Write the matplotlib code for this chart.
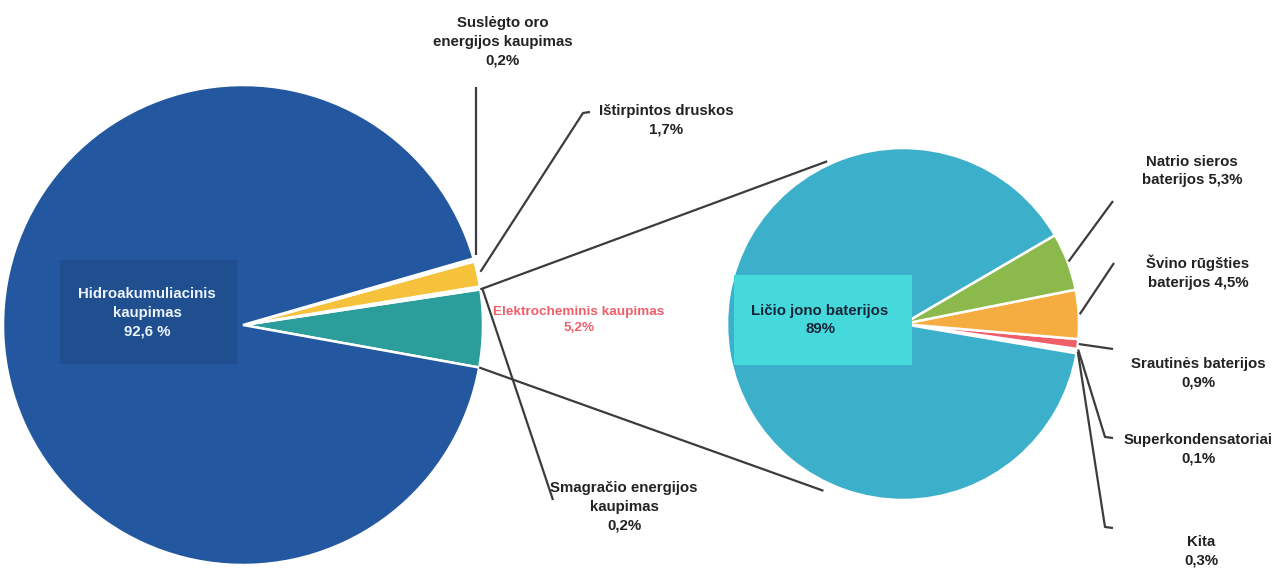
import numpy as np
import matplotlib
matplotlib.use("Agg")
import matplotlib.pyplot as plt
from matplotlib.patches import Rectangle

plt.rcParams['font.family'] = ['Liberation Sans', 'DejaVu Sans']

# ---- data ----
left_labels = ["Elektrocheminis kaupimas", "Smagračio energijos kaupimas",
               "Ištirpintos druskos", "Suslėgto oro energijos kaupimas",
               "Hidroakumuliacinis kaupimas"]
left_values = [5.2, 0.2, 1.7, 0.2, 92.6]
left_colors = ["#2b9d9b", "#d8eef3", "#f6c23c", "#dcebf5", "#2358a0"]

right_labels = ["Kita", "Superkondensatoriai", "Srautinės baterijos",
                "Švino rūgšties baterijos", "Natrio sieros baterijos",
                "Ličio jono baterijos"]
right_values = [0.3, 0.1, 0.9, 4.5, 5.3, 89.0]
right_colors = ["#e4f4f8", "#c8eef4", "#ef5f6a", "#f5ad42", "#8cb94b", "#3cafcb"]

left_texts = {
    "Hidroakumuliacinis kaupimas": "Hidroakumuliacinis\nkaupimas\n92,6 %",
    "Elektrocheminis kaupimas": "Elektrocheminis kaupimas\n5,2%",
    "Smagračio energijos kaupimas": "Smagračio energijos\nkaupimas\n0,2%",
    "Ištirpintos druskos": "Ištirpintos druskos\n1,7%",
    "Suslėgto oro energijos kaupimas": "Suslėgto oro\nenergijos kaupimas\n0,2%",
}
right_texts = {
    "Ličio jono baterijos": "Ličio jono baterijos\n89%",
    "Natrio sieros baterijos": "Natrio sieros\nbaterijos 5,3%",
    "Švino rūgšties baterijos": "Švino rūgšties\nbaterijos 4,5%",
    "Srautinės baterijos": "Srautinės baterijos\n0,9%",
    "Superkondensatoriai": "Superkondensatoriai\n0,1%",
    "Kita": "Kita\n0,3%",
}

# ---- layout (pixel space, y measured from top) ----
W, H = 1280, 572
def Y(py):
    return H - py

fig = plt.figure(figsize=(W / 100, H / 100), dpi=100)
ax = fig.add_axes([0, 0, 1, 1])

lc, lr = (243, Y(325)), 240
rc, rr = (903, Y(324)), 176
l_start = -10.2
r_start = -9.6

lw_, _ = ax.pie(left_values, colors=left_colors, startangle=l_start,
                center=lc, radius=lr, counterclock=True,
                wedgeprops=dict(edgecolor='white', linewidth=1.8))
rw_, _ = ax.pie(right_values, colors=right_colors, startangle=r_start,
                center=rc, radius=rr, counterclock=True,
                wedgeprops=dict(edgecolor='white', linewidth=1.8))
ax.set_xlim(0, W)
ax.set_ylim(0, H)
ax.set_aspect('equal')
ax.axis('off')

def edge_pt(center, r, ang):
    a = np.deg2rad(ang)
    return center[0] + r * np.cos(a), center[1] + r * np.sin(a)

def mid(w):
    return (w.theta1 + w.theta2) / 2

line_kw = dict(color='#3c3c3c', lw=1.6, solid_capstyle='butt', zorder=1)
text_kw = dict(ha='center', va='center', fontsize=10.8, fontweight='bold',
               color='#222222', linespacing=1.42)

# connection lines between teal wedge and right pie
teal = lw_[0]
p1 = edge_pt(lc, lr, teal.theta2)
p2 = edge_pt(lc, lr, teal.theta1)
q1 = edge_pt(rc, rr * 1.02, 115)
q2 = edge_pt(rc, rr * 1.05, -115.5)
ax.plot([p1[0], q1[0]], [p1[1], q1[1]], **line_kw)
ax.plot([p2[0], q2[0]], [p2[1], q2[1]], **line_kw)

# Hydro label box
ax.add_patch(Rectangle((60, Y(364)), 177, 104, facecolor='#1f4f8e',
                       edgecolor='none', zorder=3))
ax.text(147, Y(313), left_texts["Hidroakumuliacinis kaupimas"], zorder=4,
        **{**text_kw, 'color': '#eef4ff'})

# Elektrocheminis label
ax.text(579, Y(320), left_texts["Elektrocheminis kaupimas"],
        **{**text_kw, 'color': '#ee5f69', 'fontsize': 9.7,
           'linespacing': 1.55})

# Suslėgto oro
w = lw_[3]
s = edge_pt(lc, lr, mid(w))
ax.plot([s[0] + 2, s[0] + 2], [s[1] + 5, Y(87)], **line_kw)
ax.text(503, Y(42), left_texts["Suslėgto oro energijos kaupimas"], **text_kw)

# Ištirpintos druskos
w = lw_[2]
s = edge_pt(lc, lr, mid(w))
ax.plot([s[0] + 3, 583, 590], [s[1] + 2, Y(113), Y(112)], **line_kw)
ax.text(666, Y(120), left_texts["Ištirpintos druskos"], **text_kw)

# Smagračio
w = lw_[1]
s = edge_pt(lc, lr, mid(w))
ax.plot([s[0] + 2, 553], [s[1], Y(500)], **line_kw)
ax.text(624, Y(507), left_texts["Smagračio energijos kaupimas"], **text_kw)

# Li-ion label box
ax.add_patch(Rectangle((734, Y(365)), 178, 90, facecolor='#46d9dc',
                       edgecolor='none', zorder=3))
ax.text(820, Y(320), right_texts["Ličio jono baterijos"], zorder=4,
        **{**text_kw, 'color': '#16263a'})

# right-side labels
right_layout = {
    "Natrio sieros baterijos": ([1113], [Y(201)], (1192, Y(171))),
    "Švino rūgšties baterijos": ([1114], [Y(263)], (1198, Y(272))),
    "Srautinės baterijos": ([1113], [Y(349)], (1198, Y(373))),
    "Superkondensatoriai": ([1105, 1113], [Y(437), Y(438)], (1198, Y(449))),
    "Kita": ([1105, 1113], [Y(527), Y(528)], (1201, Y(551))),
}
for w, lab in zip(rw_, right_labels):
    if lab not in right_layout:
        continue
    xs, ys, tpos = right_layout[lab]
    s = edge_pt(rc, rr, mid(w))
    ax.plot([s[0] + 1] + xs, [s[1]] + ys, **line_kw)
    ax.text(tpos[0], tpos[1], right_texts[lab], **text_kw)

fig.savefig("out.png", dpi=100, facecolor='white')
